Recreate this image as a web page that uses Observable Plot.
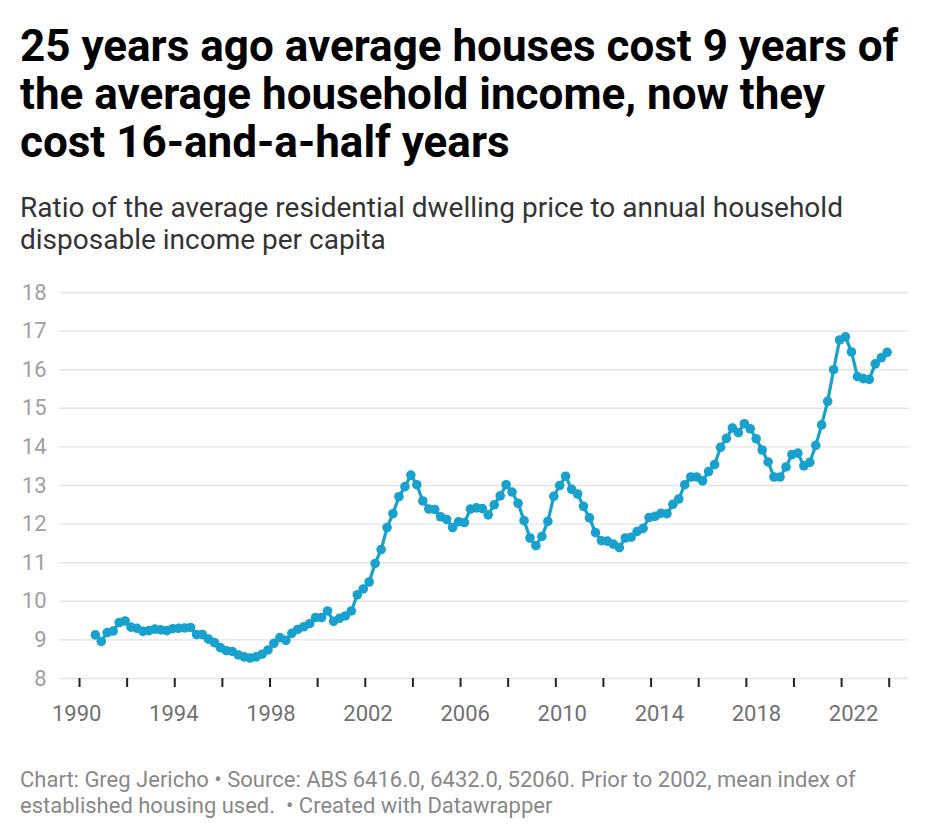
<!DOCTYPE html>
<html><head><meta charset="utf-8">
<script src="https://cdn.jsdelivr.net/npm/d3@7"></script>
<script src="https://cdn.jsdelivr.net/npm/@observablehq/plot@0.6"></script>
<style>
body{margin:0;background:#fff;font-family:Roboto,sans-serif;width:940px;height:840px;position:relative;overflow:hidden}
#title{position:absolute;left:20px;top:22px;font-weight:700;font-size:44px;line-height:48px;color:#000;white-space:nowrap}
#subtitle{position:absolute;left:20px;top:192px;font-size:28px;line-height:32px;color:#333;white-space:nowrap}
#chart{position:absolute;left:0;top:270px}
#footer{position:absolute;left:20px;top:767px;font-size:22px;line-height:26px;color:#888;white-space:nowrap}
</style></head><body>
<div id="title">25 years ago average houses cost 9 years of<br>the average household income, now they<br>cost 16-and-a-half years</div>
<div id="subtitle">Ratio of the average residential dwelling price to annual household<br>disposable income per capita</div>
<div id="chart"></div>
<div id="footer">Chart: Greg Jericho • Source: ABS 6416.0, 6432.0, 52060. Prior to 2002, mean index of<br>established housing used.&nbsp; • Created with Datawrapper</div>
<script>
// Quarterly series, first observation = September quarter 1990
const startYear = 1990;
const startMonth = 9;
const ratio = [
  9.13, 8.96, 9.19, 9.23, 9.45, 9.49, 9.33, 9.30, 9.22, 9.24,
  9.28, 9.26, 9.24, 9.29, 9.30, 9.31, 9.32, 9.14, 9.14, 9.02,
  8.93, 8.80, 8.72, 8.70, 8.61, 8.56, 8.53, 8.56, 8.63, 8.74,
  8.91, 9.06, 8.99, 9.17, 9.27, 9.34, 9.42, 9.58, 9.58, 9.75,
  9.48, 9.56, 9.62, 9.75, 10.17, 10.32, 10.50, 10.98, 11.34, 11.91,
  12.27, 12.71, 12.97, 13.27, 13.02, 12.60, 12.39, 12.38, 12.19, 12.12,
  11.91, 12.06, 12.04, 12.39, 12.42, 12.40, 12.24, 12.50, 12.73, 13.02,
  12.83, 12.54, 12.09, 11.64, 11.44, 11.68, 12.07, 12.72, 13.00, 13.24,
  12.90, 12.78, 12.46, 12.16, 11.78, 11.57, 11.56, 11.48, 11.39, 11.64,
  11.66, 11.81, 11.89, 12.17, 12.20, 12.28, 12.27, 12.51, 12.65, 13.02,
  13.22, 13.22, 13.12, 13.36, 13.54, 13.99, 14.22, 14.49, 14.37, 14.60,
  14.47, 14.21, 13.92, 13.61, 13.22, 13.22, 13.48, 13.80, 13.84, 13.51,
  13.60, 14.04, 14.57, 15.18, 16.00, 16.77, 16.85, 16.46, 15.82, 15.77,
  15.75, 16.15, 16.31, 16.45
];
const yTicks = [8, 9, 10, 11, 12, 13, 14, 15, 16, 17, 18];
const xLabelYears = [1990, 1994, 1998, 2002, 2006, 2010, 2014, 2018, 2022];
const xTickYears = [1990, 1992, 1994, 1996, 1998, 2000, 2002, 2004, 2006, 2008, 2010, 2012, 2014, 2016, 2018, 2020, 2022, 2024];

const data = ratio.map((v, i) => ({date: new Date(Date.UTC(startYear, startMonth - 1 + 3 * i, 1)), value: v}));
const yr = y => new Date(Date.UTC(y, 0, 1));
// Datawrapper spreads its year labels slightly wider than the tick marks
const labelSpread = 1.0195;
const labelDate = y => new Date(Date.UTC(1990, 0, 1) + ((y - 1990) * labelSpread - 0.12) * 365.25 * 864e5);
const blue = "#18a1cd";

const chart = Plot.plot({
  width: 940, height: 468,
  marginLeft: 59, marginRight: 32, marginTop: 22, marginBottom: 60,
  style: {fontFamily: "Roboto, sans-serif", fontSize: "22px", background: "transparent"},
  x: {type: "utc", domain: [new Date(Date.UTC(1989, 1, 28)), new Date(Date.UTC(2024, 9, 23))]},
  y: {domain: [8, 18]},
  marks: [
    Plot.gridY(yTicks, {stroke: "#e3e3e3", strokeOpacity: 1, strokeWidth: 1.4}),
    Plot.axisY(yTicks, {tickSize: 0, tickPadding: 13, label: null, fill: "#a0a0a0", fontSize: 22}),
    Plot.axisX(xTickYears.map(yr), {tickSize: 9, tickFormat: () => "", stroke: "#222", strokeWidth: 2, label: null}),
    Plot.text(xLabelYears, {x: labelDate, text: d => String(d), frameAnchor: "bottom", dy: 42, fill: "#707070", fontSize: 22}),
    Plot.line(data, {x: "date", y: "value", stroke: blue, strokeWidth: 3.2}),
    Plot.dot(data, {x: "date", y: "value", fill: blue, r: 4.8})
  ]
});
document.getElementById("chart").appendChild(chart);
</script>
</body></html>
